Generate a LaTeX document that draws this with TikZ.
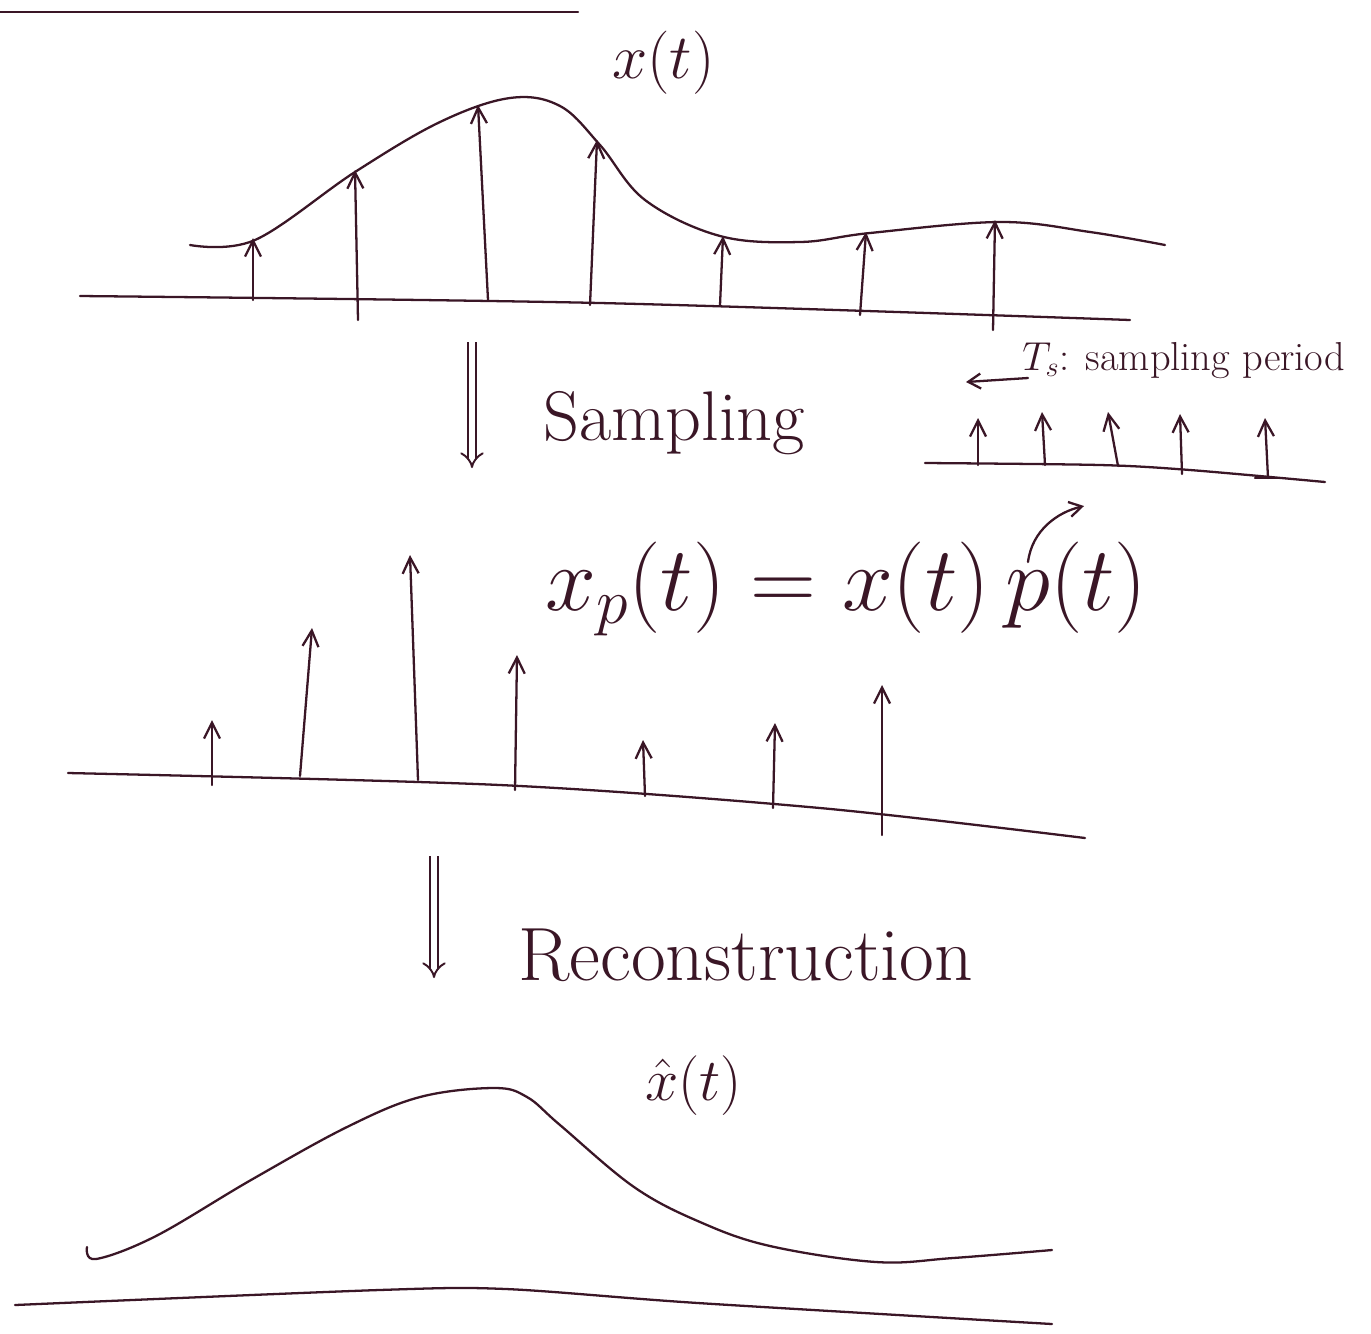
\RequirePackage{fix-cm}
\documentclass[tikz,border=0pt]{standalone}
\usetikzlibrary{arrows.meta}
\definecolor{ink}{RGB}{58,22,38}
\begin{document}
\begin{tikzpicture}[x=0.02cm,y=-0.02cm,
  pen/.style={draw=ink,line width=1.3pt,line cap=round,line join=round},
  impulse/.style={pen,-{Straight Barb[length=3.2mm,width=3.2mm]}},
  bigarrow/.style={draw=ink,line width=1.1pt,double distance=3.5pt,-{Implies[length=6mm]}},
  lbl/.style={text=ink,inner sep=0pt,anchor=base west}]
\fill[white] (0,0) rectangle (1371,1333);
\useasboundingbox (0,0) rectangle (1371,1333);

% top rule
\draw[pen] (0,12) -- (578,12);

% x(t)
\node[lbl,font=\fontsize{36}{40}\selectfont] (xt) at (612,78) {$x(t)$};
\draw[pen] plot[smooth,tension=0.6] coordinates {(190,245) (255,240) (355,172) (440,122) (510,98) (560,106) (600,145) (645,200) (720,236) (800,242) (870,233) (1000,222) (1090,232) (1165,245)};
\draw[pen] plot[smooth] coordinates {(80,296) (600,303) (1130,320)};
\coordinate (a1b) at (253,300); \coordinate (a1t) at (253,238);
\coordinate (a2b) at (358,320); \coordinate (a2t) at (355,170);
\coordinate (a3b) at (488,300); \coordinate (a3t) at (478,105);
\coordinate (a4b) at (590,305); \coordinate (a4t) at (597,140);
\coordinate (a5b) at (720,305); \coordinate (a5t) at (723,236);
\coordinate (a6b) at (860,315); \coordinate (a6t) at (866,232);
\coordinate (a7b) at (993,330); \coordinate (a7t) at (995,220);
\foreach \i in {1,...,7} \draw[impulse] (a\i b) -- (a\i t);

% sampling
\coordinate (s1) at (472,342); \coordinate (s2) at (472,468);
\draw[bigarrow] (s1) -- (s2);
\node[lbl,font=\fontsize{40}{44}\selectfont] (samp) at (543,440) {Sampling};

% impulse train
\node[lbl,font=\fontsize{23}{26}\selectfont] (ts) at (1022,370) {$T_s$: sampling period};
\coordinate (tsa) at (1028,378); \coordinate (tsb) at (966,382);
\draw[pen,-{Straight Barb[length=2.5mm,width=3mm]}] (tsa) -- (tsb);
\draw[pen] plot[smooth] coordinates {(925,463) (1100,465) (1190,470) (1325,482)};
\draw[pen] (1255,478) -- (1285,478);
\coordinate (p1b) at (978,465); \coordinate (p1t) at (978,418);
\coordinate (p2b) at (1045,465); \coordinate (p2t) at (1042,412);
\coordinate (p3b) at (1118,466); \coordinate (p3t) at (1108,412);
\coordinate (p4b) at (1182,474); \coordinate (p4t) at (1180,414);
\coordinate (p5b) at (1268,478); \coordinate (p5t) at (1265,418);
\foreach \i in {1,...,5} \draw[impulse] (p\i b) -- (p\i t);

% equation
\node[lbl,font=\fontsize{52}{58}\selectfont] (eq) at (545,610) {$x_p(t) = x(t)\,p(t)$};
\coordinate (pa) at (1028,562); \coordinate (pb) at (1084,506);
\draw[pen,-{Straight Barb[length=2.5mm,width=3mm]}] (pa) .. controls (1032,530) and (1058,512) .. (pb);

% sampled signal
\draw[pen] plot[smooth] coordinates {(68,773) (500,785) (820,808) (1085,838)};
\coordinate (b1b) at (212,785); \coordinate (b1t) at (212,720);
\coordinate (b2b) at (300,776); \coordinate (b2t) at (312,628);
\coordinate (b3b) at (418,780); \coordinate (b3t) at (410,555);
\coordinate (b4b) at (515,790); \coordinate (b4t) at (517,655);
\coordinate (b5b) at (645,796); \coordinate (b5t) at (643,740);
\coordinate (b6b) at (773,808); \coordinate (b6t) at (775,723);
\coordinate (b7b) at (882,835); \coordinate (b7t) at (882,685);
\foreach \i in {1,...,7} \draw[impulse] (b\i b) -- (b\i t);

% reconstruction
\coordinate (r1) at (434,856); \coordinate (r2) at (434,978);
\draw[bigarrow] (r1) -- (r2);
\node[lbl,font=\fontsize{43}{48}\selectfont] (rec) at (518,980) {Reconstruction};
\node[lbl,font=\fontsize{34}{38}\selectfont] (xh) at (645,1100) {$\hat{x}(t)$};

% reconstructed signal
\draw[pen] plot[smooth,tension=0.6] coordinates {(87,1247) (96,1259) (156,1236) (251,1180) (347,1127) (420,1097) (494,1088) (527,1097) (560,1125) (634,1187) (700,1222) (770,1246) (876,1262) (953,1258) (1052,1250)};
\draw[pen] plot[smooth] coordinates {(15,1305) (379,1290) (506,1289) (698,1303) (1052,1324)};
\end{tikzpicture}
\end{document}
